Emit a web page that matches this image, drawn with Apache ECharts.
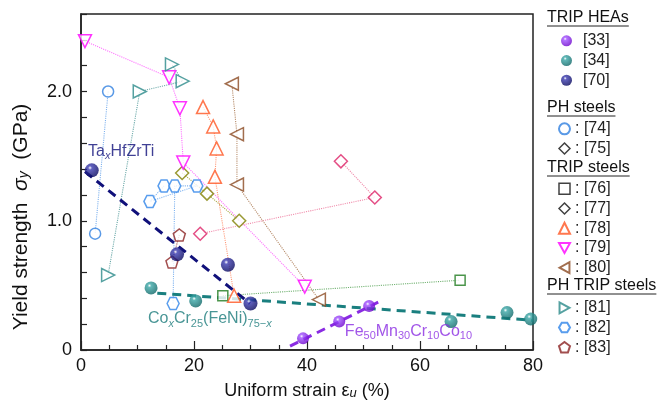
<!DOCTYPE html>
<html><head><meta charset="utf-8">
<script src="https://cdn.jsdelivr.net/npm/echarts@6/dist/echarts.min.js"></script>
<style>html,body{margin:0;padding:0;background:#fff}#c{width:657px;height:405px}</style>
</head><body><div id="c"></div>
<script>
// ---------- data (x: uniform strain %, y: yield strength GPa) ----------
// TRIP HEAs
const ref33 = [[39.3,0.09],[45.7,0.22],[51.0,0.34]];
const fit33 = [[37.0,0.03],[52.6,0.37]];
const ref34 = [[12.4,0.48],[20.3,0.38],[65.5,0.22],[75.4,0.29],[79.6,0.24]];
const fit34 = [[13.5,0.44],[80,0.23]];
const ref70 = [[1.9,1.39],[17.0,0.74],[26.0,0.66],[30.0,0.36]];
const fit70 = [[0.7,1.38],[29.9,0.36]];
// PH steels
const ref74 = [[4.8,2.0],[2.5,0.90]];
const ref75 = [[17.9,1.37],[22.3,1.21],[28.0,1.0]];
// TRIP steels
const ref76 = [[25.1,0.42],[67.1,0.54]];
const ref77 = [[46.0,1.46],[52.0,1.18],[21.1,0.90]];
const ref78 = [[21.6,1.88],[23.4,1.73],[24.0,1.56],[23.7,1.34],[27.1,0.42]];
const ref79 = [[0.7,2.39],[15.6,2.11],[17.5,1.87],[18.1,1.45],[39.6,0.49]];
const ref80 = [[26.7,2.06],[27.6,1.67],[27.6,1.28],[42.1,0.39]];
// PH TRIP steels
const ref81 = [[4.8,0.58],[10.4,2.0],[18.0,2.08],[16.1,2.21]];
const ref82 = [[12.2,1.15],[14.7,1.27],[16.6,1.27],[20.5,1.27],[16.3,0.36]];
const ref82Chains = [[1,0,3],[4,2,3]];
const ref83 = [[17.4,0.89],[16.1,0.68]];
// ticks
const xTickLabels = [0,20,40,60,80];
const yTickLabels = [0,1,2];
// legend groups
const groupTitles = ['TRIP HEAs','PH steels','TRIP steels','PH TRIP steels'];
const groupNames = [['[33]','[34]','[70]'],['[74]','[75]'],['[76]','[77]','[78]','[79]','[80]'],['[81]','[82]','[83]']];
// annotations
const annTa = {at:[1.24,1.535], text:'Ta{si|x}HfZrTi'};
const annCo = {at:[11.86,0.24], text:'Co{si|x}Cr{s|25}(FeNi){s|75−}{si|x}'};
const annFe = {at:[46.7,0.14], text:'Fe{s|50}Mn{s|30}Cr{s|10}Co{s|10}'};

// ---------- styling ----------
const FONT = 'Liberation Sans, Arial, Helvetica, sans-serif';
const HEX = 'path://M-1,0L-0.5,-0.866L0.5,-0.866L1,0L0.5,0.866L-0.5,0.866Z';
const PENT = 'path://M0,-1L0.951,-0.309L0.588,0.809L-0.588,0.809L-0.951,-0.309Z';
const TRI_DOWN = 'path://M-1,-0.9L1,-0.9L0,0.9Z';
const TRI_LEFT = 'path://M0.9,-1L0.9,1L-0.9,0Z';
const TRI_RIGHT = 'path://M-0.9,-1L-0.9,1L0.9,0Z';
function sphere(light, dark){
  return {type:'radial', x:0.38, y:0.32, r:0.72, colorStops:[
    {offset:0,color:'#ffffff'},{offset:0.2,color:light},{offset:1,color:dark}]};
}
const series = [];
function link(data, color){
  series.push({type:'line', data:data, showSymbol:false, silent:true, z:1,
    lineStyle:{type:'dotted', width:1.1, color:color}, animation:false});
}
function fit(data, color){
  series.push({type:'line', data:data, showSymbol:false, silent:true, z:3,
    lineStyle:{type:[9,6], width:3, color:color}, animation:false});
}
function pts(name, data, symbol, size, color, rot, filled){
  series.push({type:'scatter', name:name, data:data, symbol:symbol, symbolSize:size,
    symbolRotate:rot||0, z: filled?5:4, animation:false,
    itemStyle: filled ? {color:filled, borderWidth:0} : {color:'#ffffff', borderColor:color, borderWidth:1.5}});
}
// connecting dotted lines
link(ref74,'#7fb2ee');
link(ref75,'#a6a640');
link(ref76,'#6fb06f');
link(ref77,'#f08aaa');
link(ref78,'#ff9a7a');
link(ref79,'#ff70ff');
link(ref80,'#b58a68');
link(ref81,'#6aa8a8');
ref82Chains.forEach(c => link(c.map(i => ref82[i]), '#80b4f0'));
link(ref83,'#a86060');
// fits
fit(fit70,'#10107a');
fit(fit34,'#1a7f7f');
fit(fit33,'#8a2be2');
// markers
pts('[74]', ref74, 'circle', 11, '#2f80e0');
pts('[75]', ref75, 'diamond', 13, '#7f7f00');
pts('[76]', ref76, 'rect', 10, '#1e7b1e');
pts('[77]', ref77, 'diamond', 13, '#dd2266');
pts('[78]', ref78, 'triangle', 13, '#ff5522');
pts('[79]', ref79, 'triangle', 13, '#ff00ff', 180);
pts('[80]', ref80, 'triangle', 13, '#8b4a22', 90);
pts('[81]', ref81, 'triangle', 13, '#2a8a8a', -90);
pts('[82]', ref82, HEX, 12, '#2f85e8');
pts('[83]', ref83, PENT, 12, '#8b2222');
pts('[33]', ref33, 'circle', 12, null, 0, sphere('#a050ff','#6a00c8'));
pts('[34]', ref34, 'circle', 13, null, 0, sphere('#3aa6a6','#0c6464'));
pts('[70]', ref70, 'circle', 14, null, 0, sphere('#3a3ab0','#05055a'));
// annotations
const subRich = (c) => ({
  s:{fontSize:11, color:c, verticalAlign:'bottom', lineHeight:6, fontFamily:FONT},
  si:{fontSize:11, color:c, fontStyle:'italic', verticalAlign:'bottom', lineHeight:6, fontFamily:FONT}
});
function ann(a, color){
  series.push({type:'scatter', data:[a.at], symbolSize:0, silent:true, z:6, animation:false,
    label:{show:true, position:'right', distance:0, formatter:a.text, color:color,
      fontSize:16, lineHeight:20, fontFamily:FONT, rich:subRich(color)}});
}
ann(annTa,'#10107a');
ann(annCo,'#1a7a7a');
ann(annFe,'#8a2be2');

// legends
const legendTops = [31,119,179,298];
const legendLefts = [561,558,558,558];
const legendOverride = {
  '[75]': {itemStyle:{color:'#fff', borderColor:'#111', borderWidth:1.5}},
  '[76]': {itemStyle:{color:'#fff', borderColor:'#111', borderWidth:1.5}},
  '[77]': {itemStyle:{color:'#fff', borderColor:'#111', borderWidth:1.5}},
  '[79]': {icon:TRI_DOWN},
  '[80]': {icon:TRI_LEFT},
  '[81]': {icon:TRI_RIGHT}
};
const legends = groupNames.map((names, g) => ({
  orient:'vertical', left:legendLefts[g], top:legendTops[g], padding:0,
  itemWidth:11, itemHeight:11, itemGap:0, selectedMode:false,
  data: names.map(n => Object.assign({name:n}, legendOverride[n] || {})),
  formatter: g === 0 ? (n => n) : (n => ': ' + n),
  textStyle:{fontSize:16, lineHeight:19.7, color:'#222', fontFamily:FONT, padding: g===0 ? [0,0,0,6] : [0,0,0,0]}
}));

// group headers with underlines
const headerY = [18,108,168,286];
const cv = document.createElement('canvas').getContext('2d');
cv.font = '16px Liberation Sans';
const graphics = [];
groupTitles.forEach((t,i) => {
  const w = cv.measureText(t).width;
  graphics.push({type:'text', x:547, y:headerY[i], silent:true,
    style:{text:t, fontSize:16, fontFamily:FONT, fill:'#111', verticalAlign:'middle', align:'left'}});
  graphics.push({type:'line', silent:true, shape:{x1:547, y1:headerY[i]+8, x2:547+w, y2:headerY[i]+8},
    style:{stroke:'#222', lineWidth:1}});
});
// y axis title
graphics.push({type:'text', x:21, y:217, rotation:Math.PI/2, silent:true,
  style:{text:'Yield strength  {i|σ}{si|y}  (GPa)', fontSize:21, fontFamily:FONT, fill:'#111',
    align:'center', verticalAlign:'middle',
    rich:{i:{fontSize:21, fontStyle:'italic', fontFamily:FONT, fill:'#111'},
          si:{fontSize:14, fontStyle:'italic', fontFamily:FONT, fill:'#111', verticalAlign:'bottom', lineHeight:6}}}});

const chart = echarts.init(document.getElementById('c'), null, {renderer:'canvas'});
chart.setOption({
  animation:false,
  backgroundColor:'#fff',
  grid:{left:81, right:124, top:14, bottom:54, show:true, borderColor:'#222', borderWidth:1.5, backgroundColor:'transparent'},
  xAxis:{type:'value', min:0, max:80, interval:20,
    axisLine:{show:true, lineStyle:{color:'#222', width:1.5}},
    axisTick:{show:true, inside:true, length:9, lineStyle:{color:'#222', width:1.2}},
    minorTick:{show:true, splitNumber:4, length:5, lineStyle:{color:'#222', width:1.2}},
    splitLine:{show:false},
    axisLabel:{margin:7, fontSize:18, color:'#111', fontFamily:FONT,
      formatter: v => xTickLabels.indexOf(Math.round(v)) >= 0 ? String(Math.round(v)) : ''},
    name:'Uniform strain {e|ε}{si|u} (%)', nameLocation:'middle', nameGap:32,
    nameTextStyle:{fontSize:18, color:'#111', fontFamily:FONT,
      rich:{e:{fontSize:18, color:'#111', fontFamily:FONT},
            si:{fontSize:13, fontStyle:'italic', color:'#111', fontFamily:FONT, verticalAlign:'bottom', lineHeight:6}}}
  },
  yAxis:{type:'value', min:0, max:2.6, interval:0.2,
    axisLine:{show:true, lineStyle:{color:'#222', width:1.5}},
    axisTick:{show:true, inside:true, length:6, lineStyle:{color:'#222', width:1.2}},
    splitLine:{show:false},
    axisLabel:{margin:9, fontSize:18, color:'#111', fontFamily:FONT,
      formatter: v => {
        const r = Math.round(v);
        if (Math.abs(v - r) < 1e-6 && yTickLabels.indexOf(r) >= 0) return r === 0 ? '0' : r.toFixed(1);
        return '';
      }}
  },
  legend: legends,
  graphic: graphics,
  series: series
});
</script></body></html>
